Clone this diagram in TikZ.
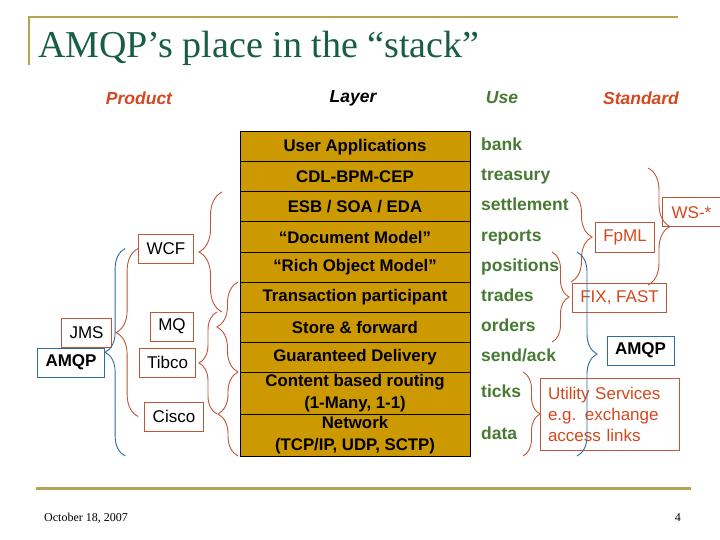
\documentclass[tikz,border=0pt]{standalone}
\usepackage{fontspec}
\setmainfont{Liberation Sans}
\newfontfamily\slidefont{Liberation Serif}
\usepackage{tikz}
\usetikzlibrary{positioning, decorations.pathreplacing}

\definecolor{gold}{RGB}{204,153,0}
\definecolor{rust}{RGB}{190,86,58}
\definecolor{stdred}{RGB}{212,72,30}
\definecolor{usegreen}{RGB}{72,122,52}
\definecolor{titlegreen}{RGB}{24,94,66}
\definecolor{amqpblue}{RGB}{46,108,164}
\definecolor{rulecol}{RGB}{180,164,82}

\begin{document}
\begin{tikzpicture}[
    x=1pt, y=-1pt,
    font=\fontsize{17}{21}\selectfont,
    header/.style={
        inner sep=0pt,
        font=\bfseries\itshape\fontsize{17.5}{20}\selectfont
    },
    layer/.style={
        draw,
        line width=1pt,
        fill=gold,
        minimum width=230pt,
        minimum height=#1,
        inner sep=0pt,
        outer sep=0pt,
        align=center,
        font=\bfseries\fontsize{16.8}{21.5}\selectfont
    },
    layer/.default=30pt,
    usetxt/.style={
        inner sep=0pt,
        text height=12pt,
        text depth=4pt,
        text=usegreen,
        font=\bfseries\fontsize{17.5}{20}\selectfont
    },
    product/.style={
        draw=rust,
        line width=1pt,
        minimum height=29pt,
        inner xsep=8pt,
        inner ysep=0pt
    },
    standard/.style={product, text=stdred},
    protocol/.style={
        product,
        draw=amqpblue,
        font=\bfseries\fontsize{17}{20}\selectfont
    },
    curly/.style={
        draw=rust,
        line width=0.9pt,
        decorate,
        decoration={brace, amplitude=#1}
    },
    bluecurly/.style={curly=#1, draw=amqpblue},
    flip/.style={decoration={mirror}}
]

\fill[white] (0,0) rectangle (720,540);
\useasboundingbox (0,0) rectangle (720,540);

\draw[rulecol, line width=2.5pt] (29,65) -- (29,17) -- (678,17);
\node[inner sep=0pt, anchor=base west, text=titlegreen, font=\slidefont\fontsize{38}{40}\selectfont] (title) at (38,58) {AMQP’s place in the “stack”};

\node[header, text=stdred] (hdproduct) at (139,98) {Product};
\node[header] (hdlayer) at (353,98) {Layer};
\node[header, text=usegreen] (hduse) at (502,98) {Use};
\node[header, text=stdred] (hdstandard) at (641,98) {Standard};

\node[layer] (userapp) at (355,147) {User Applications};
\node[layer, below=0pt of userapp] (cdl) {CDL-BPM-CEP};
\node[layer, below=0pt of cdl] (esb) {ESB / SOA / EDA};
\node[layer, below=0pt of esb] (docmodel) {“Document Model”};
\node[layer, below=0pt of docmodel] (richmodel) {“Rich Object Model”};
\node[layer, below=0pt of richmodel] (txn) {Transaction participant};
\node[layer, below=0pt of txn] (storefwd) {Store \& forward};
\node[layer, below=0pt of storefwd] (guaranteed) {Guaranteed Delivery};
\node[layer=42pt, below=0pt of guaranteed] (routing) {Content based routing\\(1-Many, 1-1)};
\node[layer=42pt, below=0pt of routing] (network) {Network\\(TCP/IP, UDP, SCTP)};

\node[usetxt, right=11pt of userapp] (bank) {bank};
\node[usetxt, right=11pt of cdl] (treasury) {treasury};
\node[usetxt, right=11pt of esb] (settlement) {settlement};
\node[usetxt, right=11pt of docmodel] (reports) {reports};
\node[usetxt, right=11pt of richmodel] (positions) {positions};
\node[usetxt, right=11pt of txn] (trades) {trades};
\node[usetxt, right=11pt of storefwd] (orders) {orders};
\node[usetxt, right=11pt of guaranteed] (sendack) {send/ack};
\node[usetxt, right=11pt of routing] (ticks) {ticks};
\node[usetxt, right=11pt of network] (data) {data};

\node[product] (wcf) at (166,248.5) {WCF};
\node[product] (mq) at (172,326.5) {MQ};
\node[product] (tibco) at (167.5,362.5) {Tibco};
\node[product] (cisco) at (174,416.5) {Cisco};
\node[product] (jms) at (86.5,332.5) {JMS};
\node[protocol] (amqpleft) at (71,362.5) {AMQP};

\node[standard] (fpml) at (625,237.5) {FpML};
\node[standard, minimum width=59pt] (wsstar) at (691.5,212.5) {WS-*};
\node[standard] (fixfast) at (619.5,297.5) {FIX, FAST};
\node[protocol] (amqpright) at (640.5,350.5) {AMQP};
\node[standard, align=left, text width=123pt, minimum height=72pt] (utility) at (609.5,414) {Utility Services\\e.g. exchange\\access links};

\coordinate (wstop) at (648,168);
\coordinate (wsbottom) at (648,285);

\draw[curly=22pt, flip] (wcf.west) -- (wcf.west |- cisco.west);
\draw[curly=23pt, flip] ([xshift=-18pt]esb.north west) -- ([xshift=-18pt]txn.south west);
\draw[curly=21pt, flip] ([xshift=-2pt]txn.north west) -- ([xshift=-2pt]guaranteed.south west);
\draw[curly=18pt, flip] ([xshift=-23pt]storefwd.north west) -- ([xshift=-23pt]routing.south west);
\draw[curly=20pt, flip] ([xshift=-2pt]routing.north west) -- ([xshift=-2pt]network.south west);

\draw[curly=21pt] ([xshift=101pt]esb.north east) -- ([xshift=101pt]richmodel.south east);
\draw[curly=22pt] (wstop) -- (wsbottom);
\draw[curly=17pt] ([xshift=82pt]richmodel.north east) -- ([xshift=82pt]storefwd.south east);
\draw[curly=17pt] ([xshift=53pt]routing.north east) -- ([xshift=53pt]network.south east);

\draw[bluecurly=20pt, flip] ([xshift=-13pt]wcf.west) -- ([xshift=-13pt]wcf.west |- network.south);
\draw[bluecurly=20pt] ([xshift=107pt]richmodel.north east) -- ([xshift=107pt]network.south east);

\draw[rulecol, line width=3pt] (36,488) -- (691,488);
\node[inner sep=0pt, anchor=base west, font=\slidefont\fontsize{12}{14}\selectfont] (date) at (44,521) {October 18, 2007};
\node[inner sep=0pt, anchor=base east, font=\slidefont\fontsize{12}{14}\selectfont] (pagenum) at (681,521) {4};

\end{tikzpicture}
\end{document}
